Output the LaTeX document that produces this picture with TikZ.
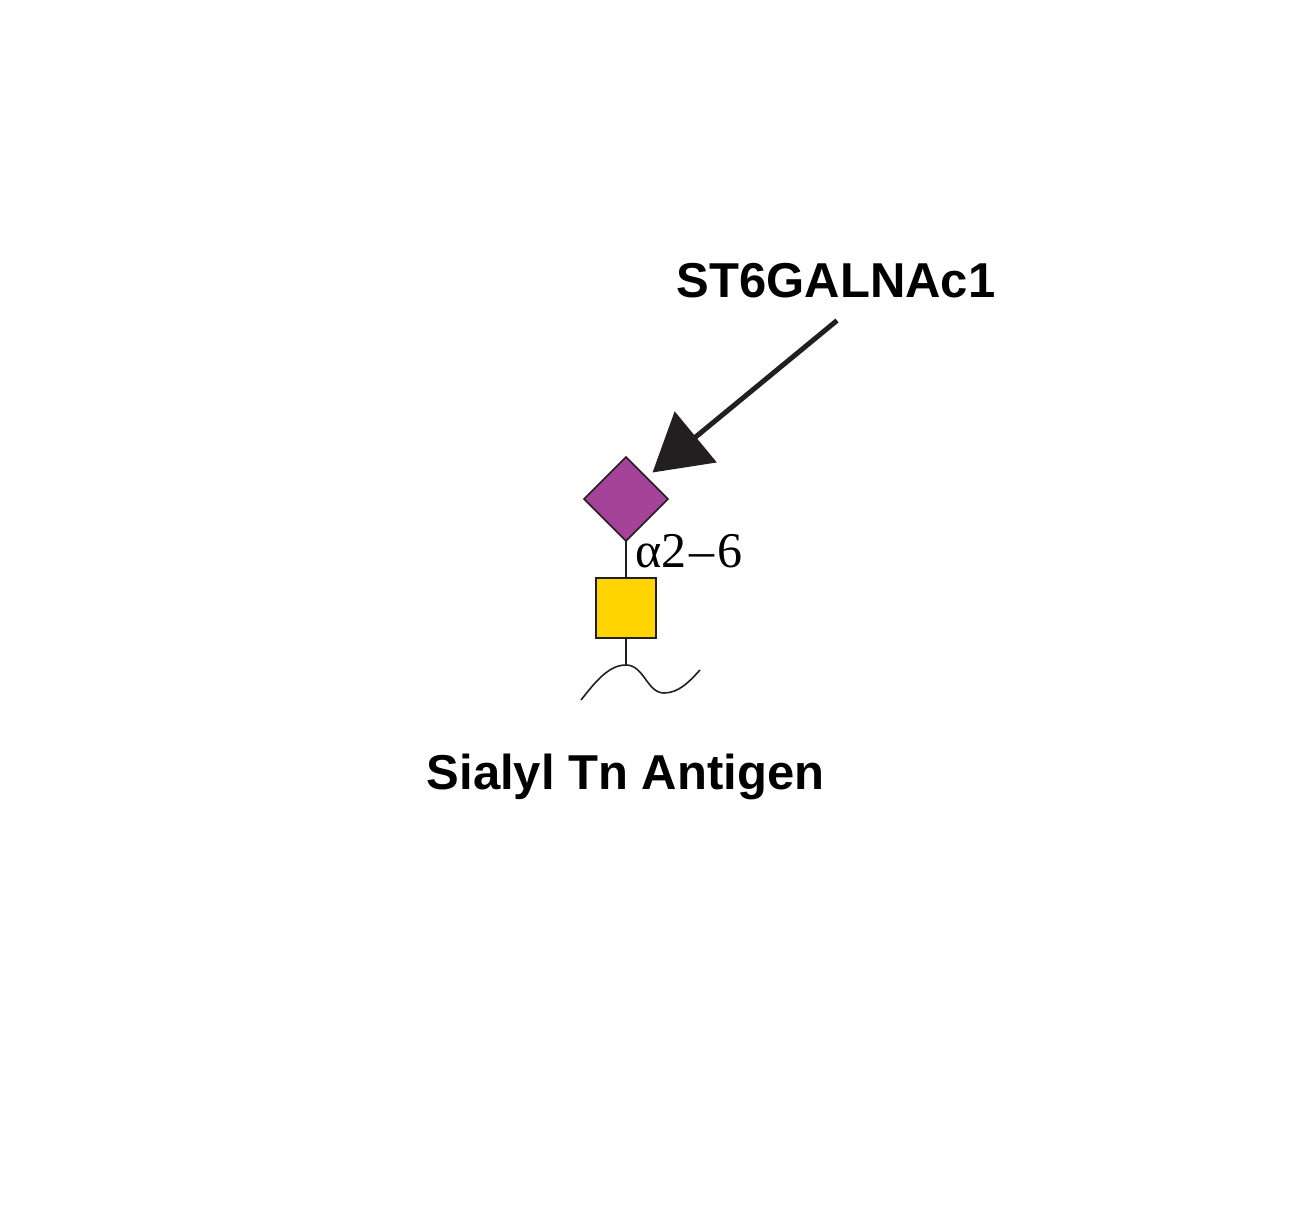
\documentclass[tikz,border=0pt]{standalone}
\usepackage{fontspec}
\setmainfont{Liberation Sans}
\newfontfamily\serifgl{Liberation Serif}
\usetikzlibrary{shapes.geometric,arrows.meta}
\definecolor{neuac}{HTML}{A54399}
\definecolor{galnac}{HTML}{FFD400}
\definecolor{ink}{HTML}{231F20}
\tikzset{
  lbl/.style={font=\fontsize{49}{55}\selectfont\bfseries, text=black, inner sep=0pt, anchor=base},
  link/.style={draw=ink, line width=1.6pt},
  sugar/.style={draw=ink, line width=1.6pt, inner sep=0pt, outer sep=0pt},
}
\begin{document}
\begin{tikzpicture}[x=1pt,y=-1pt]
\useasboundingbox (0,0) rectangle (1291,1214);
\node[sugar, diamond, fill=neuac, minimum width=84pt, minimum height=84pt] (sia) at (626,499) {};
\node[sugar, rectangle, fill=galnac, minimum width=60pt, minimum height=60pt] (gal) at (626,608) {};
\coordinate (peak) at (626,665);
\draw[link] (sia.south) -- (gal.north);
\draw[link] (gal.south) -- (peak);
\draw[link] (581,700) .. controls (596,681) and (609,665) .. (peak)
  .. controls (644,665) and (647,693) .. (664,693)
  .. controls (679,693) and (690,681) .. (700,670);
\node[font=\serifgl\fontsize{50}{55}\selectfont, inner sep=0pt, anchor=base west] (link1) at (635,567) {α2\kern3pt–\kern3pt6};
\node[lbl] (enz) at (836,298) {ST6GALNAc1};
\node[lbl] (name) at (625.5,789) {Sialyl Tn Antigen};
\coordinate (astart) at (837,320.5);
\coordinate (atip) at (652.5,472.5);
\draw[draw=ink, line width=5pt, -{Triangle[length=56pt,width=65pt,fill=ink]}] (astart) -- (atip);
\end{tikzpicture}
\end{document}
